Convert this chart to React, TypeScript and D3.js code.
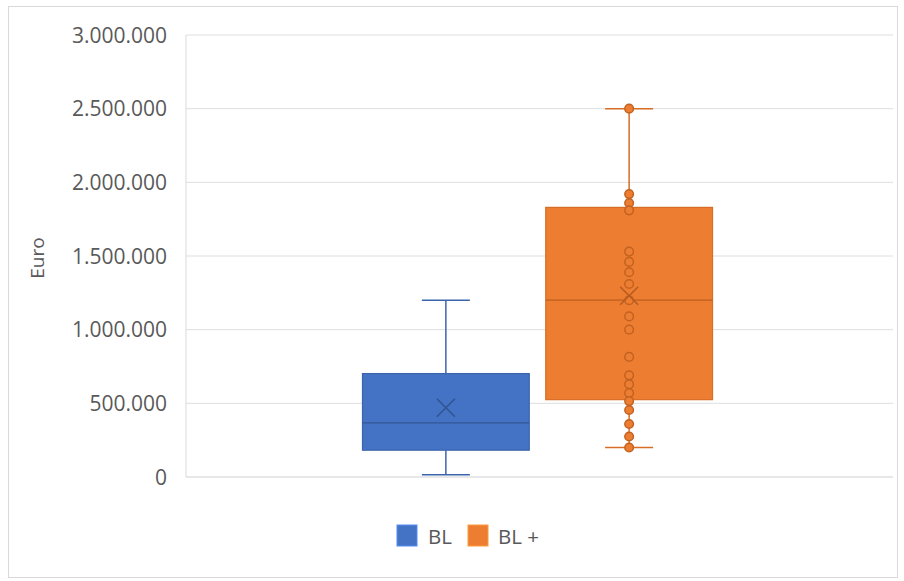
import React from "react";
import * as d3 from "d3";

const seriesNames = ["BL", "BL +"];
const seriesColors = ["#4472C4", "#ED7D31"];
const seriesStrokes = ["#3b64ad", "#d86d25"];
const whiskerMin = [15000, 200000];
const q1Values = [182000, 525000];
const medianValues = [367000, 1200000];
const q3Values = [702000, 1830000];
const whiskerMax = [1200000, 2500000];
const meanValues = [470000, 1230000];
const blPoints: number[] = [];
const blPlusPoints = [
  2500000, 1920000, 1860000, 1810000, 1530000, 1460000, 1390000, 1310000, 1200000,
  1090000, 1000000, 815000, 690000, 630000, 570000, 515000, 455000, 360000, 275000, 200000,
];
const pointsBySeries = [blPoints, blPlusPoints];
const yTicks = [0, 500000, 1000000, 1500000, 2000000, 2500000, 3000000];
const yTitle = "Euro";

const W = 904;
const H = 581;
const plotLeft = 186;
const plotRight = 893;
const plotTop = 35;
const plotBottom = 477;
const FONT = "'Open Sans', 'Noto Sans', sans-serif";
const TEXT = "#595959";

export default function App() {
  const y = d3.scaleLinear().domain([0, 3000000]).range([plotBottom, plotTop]);
  const x = d3.scalePoint<string>().domain(seriesNames).range([plotLeft, plotRight - 4]).padding(1.418);
  const step = x.step();
  const boxW = step * 0.91;
  const capW = 48;
  const fmt = d3.formatLocale({ decimal: ",", thousands: ".", grouping: [3], currency: ["", "€"] }).format(",");

  return (
    <svg
      width={W}
      height={H}
      style={{ position: "absolute", left: 0, top: 0, display: "block", background: "#fff" }}
    >
      <rect x={8.5} y={6.5} width={889} height={571} fill="#fff" stroke="#d9d9d9" strokeWidth={1} />
      {yTicks.map((t) => (
        <line key={"g" + t} x1={plotLeft} x2={plotRight} y1={y(t)} y2={y(t)} stroke={t === 0 ? "#d0d0d0" : "#dedede"} strokeWidth={1} />
      ))}
      <line x1={plotLeft} x2={plotLeft} y1={plotTop} y2={plotBottom} stroke="#d9d9d9" strokeWidth={1} />
      {yTicks.map((t) => (
        <text
          key={"t" + t}
          x={167}
          y={y(t)}
          dy="0.36em"
          textAnchor="end"
          fontFamily={FONT}
          fontSize={21}
          fill={TEXT}
        >
          {fmt(t)}
        </text>
      ))}
      <text
        transform={`translate(44,${(plotTop + plotBottom) / 2 + 2}) rotate(-90)`}
        textAnchor="middle"
        fontFamily={FONT}
        fontSize={19}
        fill={TEXT}
      >
        {yTitle}
      </text>
      {seriesNames.map((name, i) => {
        const cx = x(name) as number;
        const col = seriesColors[i];
        const st = seriesStrokes[i];
        const ms = 9;
        const my = y(meanValues[i]);
        return (
          <g key={name}>
            <line x1={cx} x2={cx} y1={y(whiskerMax[i])} y2={y(q3Values[i])} stroke={st} strokeWidth={1.5} />
            <line x1={cx} x2={cx} y1={y(q1Values[i])} y2={y(whiskerMin[i])} stroke={st} strokeWidth={1.5} />
            <line x1={cx - capW / 2} x2={cx + capW / 2} y1={y(whiskerMax[i])} y2={y(whiskerMax[i])} stroke={st} strokeWidth={1.5} />
            <line x1={cx - capW / 2} x2={cx + capW / 2} y1={y(whiskerMin[i])} y2={y(whiskerMin[i])} stroke={st} strokeWidth={1.5} />
            <rect
              x={cx - boxW / 2}
              y={y(q3Values[i])}
              width={boxW}
              height={y(q1Values[i]) - y(q3Values[i])}
              fill={col}
              stroke={st}
              strokeWidth={1.2}
            />
            <line
              x1={cx - boxW / 2}
              x2={cx + boxW / 2}
              y1={y(medianValues[i])}
              y2={y(medianValues[i])}
              stroke={d3.color(st)!.darker(0.4).formatHex()}
              strokeWidth={1.3}
            />
            {pointsBySeries[i].map((v, k) => (
              <circle key={k} cx={cx} cy={y(v)} r={4.3} fill={col} stroke={d3.color(st)!.darker(0.3).formatHex()} strokeWidth={1.5} />
            ))}
            <path
              d={`M${cx - ms},${my - ms}L${cx + ms},${my + ms}M${cx - ms},${my + ms}L${cx + ms},${my - ms}`}
              stroke={d3.color(st)!.darker(0.5).formatHex()}
              strokeWidth={1.5}
              fill="none"
            />
          </g>
        );
      })}
      {[
        { sx: 397, tx: 428 },
        { sx: 468, tx: 498 },
      ].map((p, i) => (
        <g key={"l" + i}>
          <rect x={p.sx} y={525} width={20} height={21} fill={seriesColors[i]} stroke={d3.color(seriesColors[i])!.brighter(0.6).formatHex()} strokeWidth={1} />
          <text x={p.tx} y={544} fontFamily={FONT} fontSize={20.5} fill={TEXT}>
            {seriesNames[i]}
          </text>
        </g>
      ))}
    </svg>
  );
}
